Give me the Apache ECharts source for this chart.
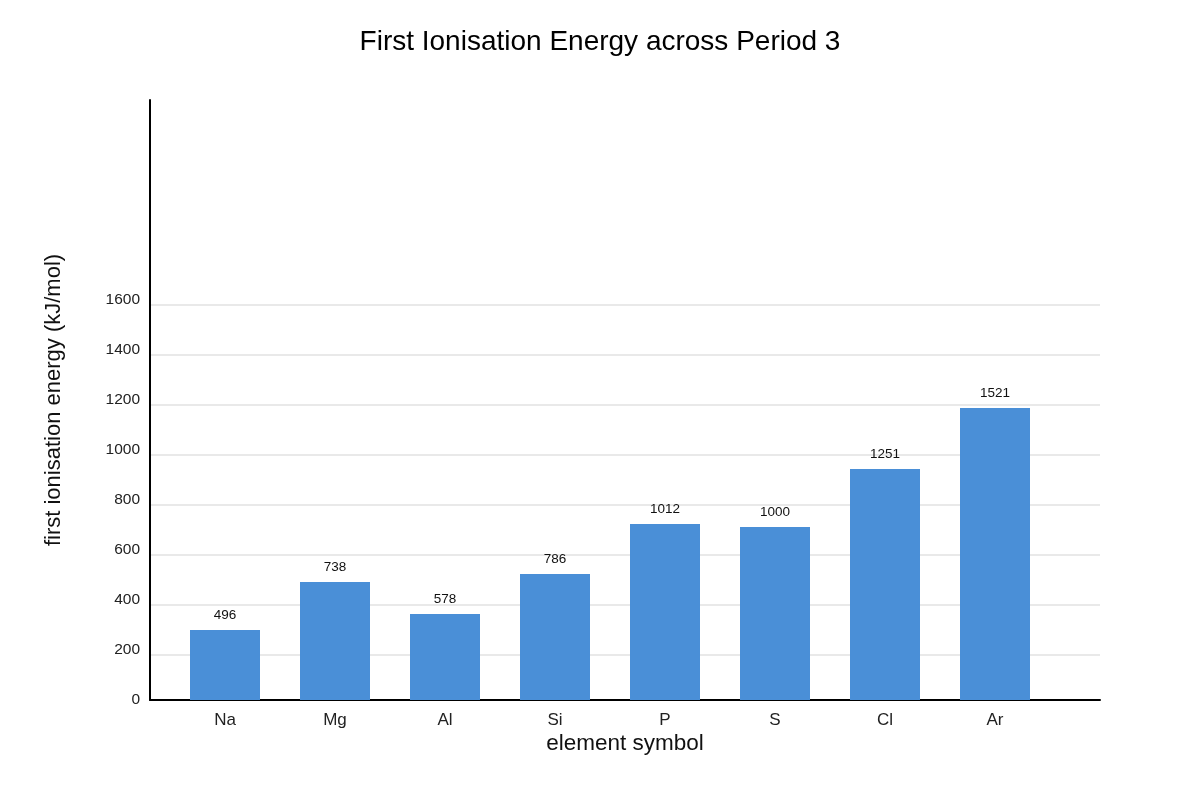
<!DOCTYPE html>
<html>
<head>
<meta charset="utf-8">
<script src="https://cdn.jsdelivr.net/npm/echarts@6/dist/echarts.min.js"></script>
<style>
html,body{margin:0;padding:0;background:#fff;}
#chart{width:1200px;height:800px;}
</style>
</head>
<body>
<div id="chart"></div>
<script>
// Data
const elements = ['Na', 'Mg', 'Al', 'Si', 'P', 'S', 'Cl', 'Ar'];
// value labels printed above each bar
const energyLabels = [496, 738, 578, 786, 1012, 1000, 1251, 1521];
// bar heights as read against the y axis
const barHeights = [280, 472, 344, 504, 704, 692, 924, 1168];
const yTicks = [0, 200, 400, 600, 800, 1000, 1200, 1400, 1600];

const FONT = '"Liberation Sans", Arial, sans-serif';
const tickMax = yTicks[yTicks.length - 1];
const tickStep = yTicks[1] - yTicks[0];

const chart = echarts.init(document.getElementById('chart'), null, {renderer: 'canvas'});
chart.setOption({
  backgroundColor: '#ffffff',
  animation: false,
  title: {
    text: 'First Ionisation Energy across Period 3',
    left: 'center',
    top: 23,
    textStyle: {fontFamily: FONT, fontSize: 28, fontWeight: 'normal', color: '#000'}
  },
  grid: [
    {left: 150, right: 100, top: 100, bottom: 100},   // axis lines + tick labels
    {left: 150, right: 100, top: 305, bottom: 95},    // grid lines
    {left: 170, right: 150, top: 100, bottom: 100}    // bars
  ],
  xAxis: [
    {
      gridIndex: 0, type: 'value', min: 0, max: 1,
      axisLine: {show: true, lineStyle: {color: '#000', width: 2}},
      axisTick: {show: false}, axisLabel: {show: false}, splitLine: {show: false},
      name: 'element symbol', nameLocation: 'middle', nameGap: 32,
      nameTextStyle: {fontFamily: FONT, fontSize: 22.5, color: '#111'}
    },
    {gridIndex: 1, type: 'value', min: 0, max: 1, show: false},
    {
      gridIndex: 2, type: 'category', data: elements,
      axisLine: {show: false}, axisTick: {show: false}, splitLine: {show: false},
      axisLabel: {fontFamily: FONT, fontSize: 17, color: '#222', margin: 12}
    }
  ],
  yAxis: [
    {
      gridIndex: 0, type: 'value', min: 0, max: 2400, interval: tickStep,
      axisLine: {show: true, lineStyle: {color: '#000', width: 2}},
      axisTick: {show: false}, splitLine: {show: false},
      axisLabel: {
        fontFamily: FONT, fontSize: 15.5, color: '#222', margin: 10,
        padding: [2, 0, 0, 0],
        formatter: v => (yTicks.indexOf(v) >= 0 ? String(v) : '')
      },
      name: 'first ionisation energy (kJ/mol)', nameLocation: 'middle', nameGap: 85,
      nameTextStyle: {fontFamily: FONT, fontSize: 22, color: '#111'}
    },
    {
      gridIndex: 1, type: 'value', min: 0, max: tickMax, interval: tickStep,
      axisLine: {show: false}, axisTick: {show: false}, axisLabel: {show: false},
      splitLine: {show: true, showMinLine: false, lineStyle: {color: '#e2e2e2', width: 1.5}}
    },
    {gridIndex: 2, type: 'value', min: 0, max: 2400, show: false}
  ],
  series: [{
    type: 'bar',
    xAxisIndex: 2, yAxisIndex: 2,
    data: barHeights,
    barWidth: 70,
    itemStyle: {color: '#4a8fd7'},
    label: {
      show: true, position: 'top', distance: 8,
      fontFamily: FONT, fontSize: 13.5, color: '#111',
      formatter: p => String(energyLabels[p.dataIndex])
    }
  }]
});
</script>
</body>
</html>
